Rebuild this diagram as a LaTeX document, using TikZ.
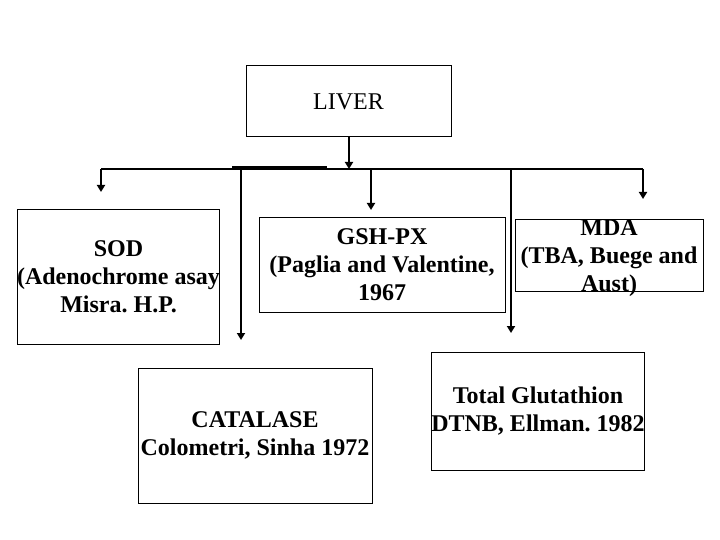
\documentclass[tikz,border=0pt]{standalone}
\usepackage{fontspec}
\setmainfont{Liberation Serif}
\usetikzlibrary{positioning, arrows.meta}
\frenchspacing

\begin{document}
\begin{tikzpicture}[x=1pt, y=-1pt,
    box/.style={draw, line width=1pt, align=center, inner sep=0pt,
        font=\fontsize{24}{28}\selectfont\bfseries},
    link/.style={line width=1.4pt},
    arr/.style={line width=2.4pt, -{Triangle[length=7pt, width=8pt]}}
]
\useasboundingbox (0,0) rectangle (720,540);

\node[box, font=\fontsize{24}{28}\selectfont, minimum width=205pt, minimum height=71pt] (liver) at (348.5,101.5) {LIVER};

\node[box, minimum width=201pt, minimum height=134pt] (sod) at (118.5,277) {SOD\\(Adenochrome asay\\Misra. H.P.};
\node[box, minimum width=246pt, minimum height=94pt] (gsh) at (382,265) {GSH-PX\\(Paglia and Valentine,\\1967};
% the MDA text is taller than its frame
\node[box, draw=none] (mda) at (609,258) {MDA\\(TBA, Buege and\\Aust)};
\node[draw, line width=1pt, minimum width=188pt, minimum height=71pt] (mdaframe) at (609,255.5) {};
\node[box, minimum width=234pt, minimum height=135pt] (catalase) at (255,435.5) {CATALASE\\Colometri, Sinha 1972};
\node[box, minimum width=210pt, minimum height=118pt] (glut) at (538,411) {Total Glutathion\\DTNB, Ellman. 1982};

% branching bar
\coordinate (hub) at (349,169);
\coordinate (barL) at (101,169);
\coordinate (barR) at (643,169);
\draw[link] (barL) -- (barR);
\draw[line width=2.4pt] (232,167.5) -- (327,167.5);
\draw[arr] (liver.south -| hub) -- (hub);

% drops to the boxes
\coordinate (sodTip) at (101,192);
\coordinate (catTip) at (241,340);
\coordinate (gshTip) at (371,210);
\coordinate (glutTip) at (511,333);
\coordinate (mdaTip) at (643,199);
\draw[arr] (barL) -- (sodTip);
\draw[arr] (catTip |- hub) -- (catTip);
\draw[arr] (gshTip |- hub) -- (gshTip);
\draw[arr] (glutTip |- hub) -- (glutTip);
\draw[arr] (barR) -- (mdaTip);
\end{tikzpicture}
\end{document}
